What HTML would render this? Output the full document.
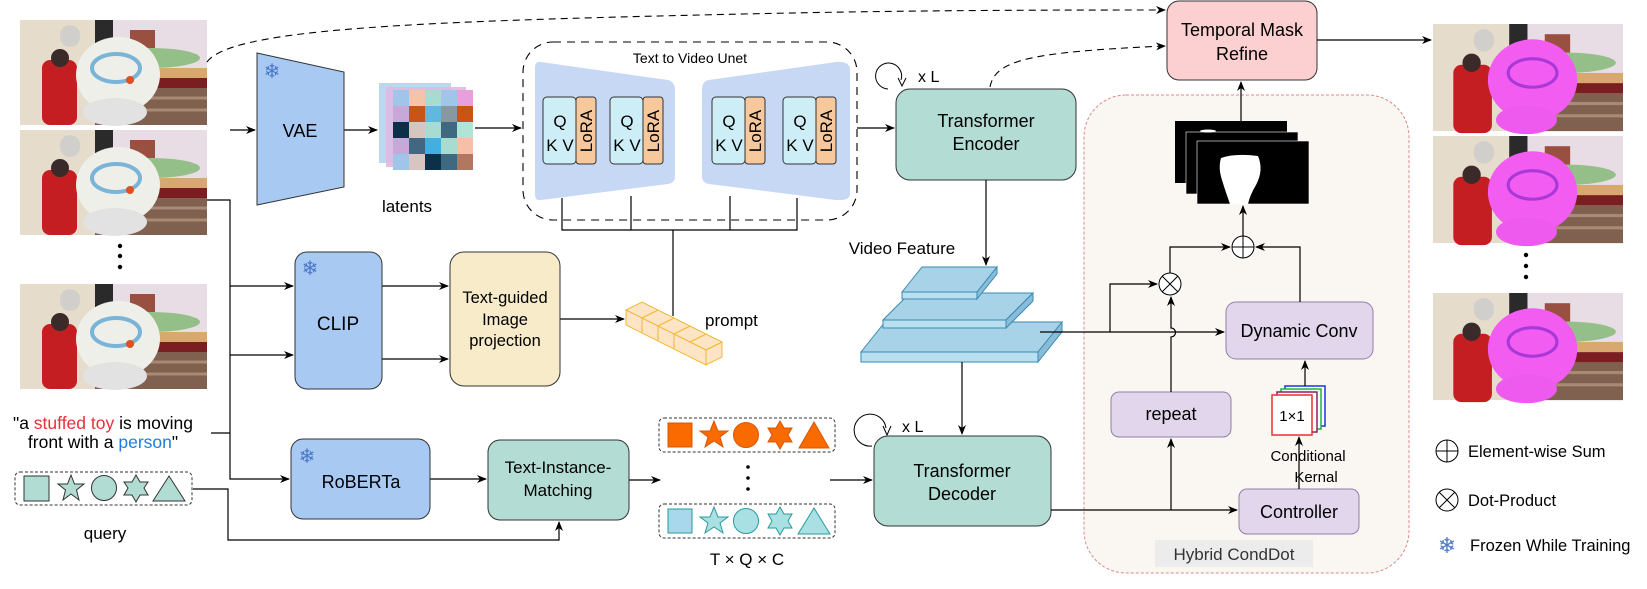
<!DOCTYPE html>
<html><head><meta charset="utf-8"><style>
html,body{margin:0;padding:0;background:#fff}
svg{display:block;font-family:"Liberation Sans",Arial,sans-serif}
</style></head><body>
<svg width="1647" height="589" viewBox="0 0 1647 589" xmlns="http://www.w3.org/2000/svg">
<defs>
<marker id="a" markerWidth="10" markerHeight="10" refX="9" refY="5" orient="auto" markerUnits="userSpaceOnUse"><path d="M0,1 L10,5 L0,9 L3,5 z" fill="#000"/></marker>
<g id="scene">
<rect width="187" height="105" fill="#e6dccb"/>
<rect x="75" y="0" width="112" height="48" fill="#e8dde4"/>
<ellipse cx="130" cy="38" rx="50" ry="10" fill="#7fb870" opacity="0.8"/>
<rect x="110" y="10" width="25" height="18" fill="#9a5040"/>
<rect x="75" y="0" width="18" height="50" fill="#2a2a2a"/>
<rect x="75" y="48" width="112" height="12" fill="#d8a870"/>
<rect x="75" y="58" width="112" height="10" fill="#7a1e22"/>
<rect x="75" y="68" width="112" height="37" fill="#80604e"/>
<path d="M75,78 H187 M75,90 H187" stroke="#a88a76" stroke-width="3"/>
<rect x="40" y="5" width="20" height="22" rx="10" fill="#ccc" opacity="0.8"/>
</g>
<g id="photoL">
<use href="#scene"/>
<rect x="22" y="40" width="35" height="65" rx="8" fill="#c41e22"/>
<circle cx="40" cy="38" r="9" fill="#3a2a2a"/>
<ellipse cx="98" cy="55" rx="42" ry="38" fill="#efefea"/>
<ellipse cx="95" cy="92" rx="32" ry="14" fill="#e2e2e2"/>
<ellipse cx="96" cy="48" rx="24" ry="14" fill="none" stroke="#7ab4d8" stroke-width="4"/>
<circle cx="110" cy="60" r="4" fill="#e05020"/>
</g>
<g id="photoR">
<use href="#scene"/>
<rect x="20" y="40" width="38" height="67" rx="8" fill="#c41e22"/>
<circle cx="38" cy="38" r="9" fill="#3a2a2a"/>
<ellipse cx="98" cy="55" rx="44" ry="40" fill="#f25cf0"/>
<ellipse cx="92" cy="94" rx="30" ry="14" fill="#ee5aee"/>
<ellipse cx="98" cy="48" rx="24" ry="14" fill="none" stroke="#a838d8" stroke-width="3"/>
</g>
</defs>

<!-- left photos -->
<use href="#photoL" x="20" y="20"/>
<use href="#photoL" x="20" y="130"/>
<use href="#photoL" x="20" y="284"/>
<circle cx="120" cy="246" r="2.2"/><circle cx="120" cy="256" r="2.2"/><circle cx="120" cy="267" r="2.2"/>

<!-- right photos -->
<g transform="translate(1433,24) scale(1.016,1.02)"><use href="#photoR"/></g>
<g transform="translate(1433,136) scale(1.016,1.02)"><use href="#photoR"/></g>
<g transform="translate(1433,293) scale(1.016,1.02)"><use href="#photoR"/></g>
<circle cx="1526" cy="255" r="2.2"/><circle cx="1526" cy="266" r="2.2"/><circle cx="1526" cy="277" r="2.2"/>

<!-- quote text -->
<text x="103" y="429" font-size="17.5" text-anchor="middle">"a <tspan fill="#e8303a">stuffed toy</tspan> is moving</text>
<text x="103" y="448" font-size="17.5" text-anchor="middle">front with a <tspan fill="#1a7fe0">person</tspan>"</text>
<!-- query -->
<rect x="15" y="472" width="177" height="33" rx="5" fill="none" stroke="#333" stroke-dasharray="3,2"/>
<g fill="#b0dcd4" stroke="#333" stroke-width="1">
<rect x="24" y="476" width="25" height="25"/>
<polygon points="71,475 74.5,484 84,484 76.5,490 79,500 71,494 63,500 65.5,490 58,484 67.5,484"/>
<circle cx="104" cy="488" r="12.5"/>
<polygon points="136,475 140,482 148,482 144,488 148,495 140,495 136,502 132,495 124,495 128,488 124,482 132,482"/>
<polygon points="169,476 185,501 153,501"/>
</g>
<text x="105" y="539" font-size="17" text-anchor="middle">query</text>

<!-- connectors left -->
<g stroke="#000" stroke-width="1.2" fill="none">
<path d="M207,200 H230 V479 H289" marker-end="url(#a)"/>
<path d="M230,130 H255" marker-end="url(#a)"/>
<path d="M230,286 H293" marker-end="url(#a)"/>
<path d="M230,355 H293" marker-end="url(#a)"/>
<path d="M211,433 H230"/>
<path d="M193,489 H228 V540 H559 V522" marker-end="url(#a)"/>
<path d="M344,130 H377" marker-end="url(#a)"/>
<path d="M475,128 H521" marker-end="url(#a)"/>
<path d="M857,128 H894" marker-end="url(#a)"/>
<path d="M382,286 H448" marker-end="url(#a)"/>
<path d="M382,359 H448" marker-end="url(#a)"/>
<path d="M560,319 H624" marker-end="url(#a)"/>
<path d="M430,479 H486" marker-end="url(#a)"/>
<path d="M629,480 H660" marker-end="url(#a)"/>
<path d="M830,480 H872" marker-end="url(#a)"/>
<path d="M562,198 V230 H797 V198 M631,196 V230 M730,196 V230 M673,230 V316"/>
</g>
<!-- dashed curves -->
<g stroke="#000" stroke-width="1.1" fill="none" stroke-dasharray="7,5">
<path d="M207,62 C230,30 400,22 700,15 C900,10 1050,10 1165,10" marker-end="url(#a)"/>
<path d="M990,87 C995,60 1030,52 1165,46" marker-end="url(#a)"/>
</g>

<!-- VAE -->
<polygon points="257,53 344,72 344,187 257,205" fill="#a7c9f2" stroke="#333" stroke-width="1"/>
<text x="300" y="137" font-size="18" text-anchor="middle">VAE</text>
<text x="272" y="78" font-size="20" fill="#4a78c8" text-anchor="middle">❄</text>

<!-- latents -->
<g>
<rect x="379" y="83" width="72" height="80" fill="#bcd8ee"/>
<rect x="386" y="87" width="80" height="80" fill="#e0b8e0" opacity="0.9"/>
<g transform="translate(393,90)">
<rect width="16" height="16" x="0" y="0" fill="#9fc6e8"/><rect width="16" height="16" x="16" y="0" fill="#f4c4a8"/><rect width="16" height="16" x="32" y="0" fill="#a8dcd0"/><rect width="16" height="16" x="48" y="0" fill="#9fc6e8"/><rect width="16" height="16" x="64" y="0" fill="#e8a0dc"/>
<rect width="16" height="16" x="0" y="16" fill="#c8a8d8"/><rect width="16" height="16" x="16" y="16" fill="#c85418"/><rect width="16" height="16" x="32" y="16" fill="#60b8e0"/><rect width="16" height="16" x="48" y="16" fill="#8898a0"/><rect width="16" height="16" x="64" y="16" fill="#c85418"/>
<rect width="16" height="16" x="0" y="32" fill="#0c3048"/><rect width="16" height="16" x="16" y="32" fill="#d8c4c0"/><rect width="16" height="16" x="32" y="32" fill="#a8dcd0"/><rect width="16" height="16" x="48" y="32" fill="#406880"/><rect width="16" height="16" x="64" y="32" fill="#b0e4d4"/>
<rect width="16" height="16" x="0" y="48" fill="#c8a8d8"/><rect width="16" height="16" x="16" y="48" fill="#406880"/><rect width="16" height="16" x="32" y="48" fill="#40b0e0"/><rect width="16" height="16" x="48" y="48" fill="#a8dcd0"/><rect width="16" height="16" x="64" y="48" fill="#f4c0a8"/>
<rect width="16" height="16" x="0" y="64" fill="#9fc6e8"/><rect width="16" height="16" x="16" y="64" fill="#d8c4c0"/><rect width="16" height="16" x="32" y="64" fill="#0c3048"/><rect width="16" height="16" x="48" y="64" fill="#406880"/><rect width="16" height="16" x="64" y="64" fill="#b07860"/>
</g>
</g>
<text x="407" y="212" font-size="17" text-anchor="middle">latents</text>

<!-- Unet -->
<rect x="523" y="42" width="334" height="178" rx="30" fill="none" stroke="#000" stroke-dasharray="8,6" stroke-width="1.1"/>
<text x="690" y="63" font-size="14" text-anchor="middle">Text to Video Unet</text>
<path d="M541,62 L668,80 Q675,82 675,90 V176 Q675,183 668,184 L541,200 Q535,201 535,194 V68 Q535,61 541,62 z" fill="#c6d8f4"/>
<path d="M709,80 L836,62 Q850,61 850,70 V194 Q850,201 836,200 L709,184 Q702,183 702,176 V90 Q702,81 709,80 z" fill="#c6d8f4"/>
<g font-size="17">
<g transform="translate(543,97)"><rect width="33" height="67" rx="4" fill="#cdeef6" stroke="#333"/><rect x="33" width="20" height="67" rx="3" fill="#f6c89c" stroke="#333"/><text x="17" y="30" text-anchor="middle">Q</text><text x="17" y="54" text-anchor="middle">K V</text><text transform="translate(49,34) rotate(-90)" text-anchor="middle">LoRA</text></g>
<g transform="translate(610,97)"><rect width="33" height="67" rx="4" fill="#cdeef6" stroke="#333"/><rect x="33" width="20" height="67" rx="3" fill="#f6c89c" stroke="#333"/><text x="17" y="30" text-anchor="middle">Q</text><text x="17" y="54" text-anchor="middle">K V</text><text transform="translate(49,34) rotate(-90)" text-anchor="middle">LoRA</text></g>
<g transform="translate(712,97)"><rect width="33" height="67" rx="4" fill="#cdeef6" stroke="#333"/><rect x="33" width="20" height="67" rx="3" fill="#f6c89c" stroke="#333"/><text x="17" y="30" text-anchor="middle">Q</text><text x="17" y="54" text-anchor="middle">K V</text><text transform="translate(49,34) rotate(-90)" text-anchor="middle">LoRA</text></g>
<g transform="translate(783,97)"><rect width="33" height="67" rx="4" fill="#cdeef6" stroke="#333"/><rect x="33" width="20" height="67" rx="3" fill="#f6c89c" stroke="#333"/><text x="17" y="30" text-anchor="middle">Q</text><text x="17" y="54" text-anchor="middle">K V</text><text transform="translate(49,34) rotate(-90)" text-anchor="middle">LoRA</text></g>
</g>

<!-- CLIP -->
<rect x="295" y="252" width="87" height="137" rx="12" fill="#a7c9f2" stroke="#333"/>
<text x="338" y="330" font-size="19" text-anchor="middle">CLIP</text>
<text x="310" y="275" font-size="20" fill="#4a78c8" text-anchor="middle">❄</text>
<!-- Text-guided -->
<rect x="450" y="252" width="110" height="134" rx="14" fill="#f8ebc9" stroke="#333"/>
<text x="505" y="303" font-size="16.5" text-anchor="middle">Text-guided</text>
<text x="505" y="325" font-size="16.5" text-anchor="middle">Image</text>
<text x="505" y="346" font-size="16.5" text-anchor="middle">projection</text>

<!-- prompt cubes -->
<g fill="#fde4c4" stroke="#f0b830" stroke-width="1">
<polygon points="626,310 642,302 722,342 706,350"/>
<polygon points="706,350 722,342 722,357 706,365"/>
<polygon points="626,310 706,350 706,365 626,325"/>
<path d="M642,318 V333 M658,326 V341 M674,334 V349 M642,318 L658,310 M658,326 L674,318 M674,334 L690,326 M690,342 L706,334"/>
</g>
<text x="705" y="326" font-size="17">prompt</text>

<!-- RoBERTa -->
<rect x="291" y="439" width="139" height="80" rx="12" fill="#a7c9f2" stroke="#333"/>
<text x="361" y="488" font-size="18" text-anchor="middle">RoBERTa</text>
<text x="307" y="463" font-size="20" fill="#4a78c8" text-anchor="middle">❄</text>
<!-- TIM -->
<rect x="488" y="440" width="141" height="80" rx="12" fill="#b2dcd4" stroke="#333"/>
<text x="558" y="473" font-size="17" text-anchor="middle">Text-Instance-</text>
<text x="558" y="496" font-size="17" text-anchor="middle">Matching</text>

<!-- instance boxes -->
<rect x="659" y="418" width="176" height="34" rx="5" fill="none" stroke="#333" stroke-dasharray="3,2"/>
<g fill="#f96a00" stroke="#d85800">
<rect x="668" y="423" width="24" height="24"/>
<polygon points="714,421 718,431 728,431 720,437 723,447 714,441 705,447 708,437 700,431 710,431"/>
<circle cx="746" cy="435" r="12.5"/>
<polygon points="780,421 784,428 792,428 788,435 792,442 784,442 780,449 776,442 768,442 772,435 768,428 776,428"/>
<polygon points="814,422 829,448 799,448"/>
</g>
<circle cx="748" cy="467" r="1.8"/><circle cx="748" cy="478" r="1.8"/><circle cx="748" cy="489" r="1.8"/>
<rect x="659" y="504" width="176" height="34" rx="5" fill="none" stroke="#333" stroke-dasharray="3,2"/>
<g stroke="#2a9a9a">
<rect x="668" y="509" width="24" height="24" fill="#a8d8ec"/>
<polygon points="714,507 718,517 728,517 720,523 723,533 714,527 705,533 708,523 700,517 710,517" fill="#a8e0e4"/>
<circle cx="746" cy="521" r="12.5" fill="#a8e0e4"/>
<polygon points="780,507 784,514 792,514 788,521 792,528 784,528 780,535 776,528 768,528 772,521 768,514 776,514" fill="#a8e0e4"/>
<polygon points="814,508 830,534 798,534" fill="#a8e0e4"/>
</g>
<text x="747" y="565" font-size="17" text-anchor="middle">T × Q × C</text>

<!-- Hybrid box -->
<rect x="1084" y="95" width="325" height="478" rx="42" fill="#faf6f2" stroke="#d88a8a" stroke-dasharray="3,2"/>
<rect x="1155" y="540" width="158" height="27" fill="#ececec"/>
<text x="1234" y="560" font-size="17" fill="#333" text-anchor="middle">Hybrid CondDot</text>

<!-- Transformer Encoder -->
<rect x="896" y="89" width="180" height="91" rx="14" fill="#b2dcd4" stroke="#333"/>
<text x="986" y="127" font-size="18" text-anchor="middle">Transformer</text>
<text x="986" y="150" font-size="18" text-anchor="middle">Encoder</text>
<path d="M888,89 A13,13 0 1 1 901,80" fill="none" stroke="#000"/>
<path d="M898,78 L902,86 L906,78" fill="none" stroke="#000"/>
<text x="918" y="82" font-size="16">x L</text>

<!-- Video feature -->
<text x="902" y="254" font-size="17" text-anchor="middle">Video Feature</text>
<g stroke="#3a8ab0" stroke-width="1">
<polygon points="861,352 885,322 1062,322 1038,352" fill="#a8d2e8"/>
<polygon points="1038,352 1062,322 1062,332 1038,362" fill="#88bcd8"/>
<rect x="861" y="352" width="177" height="10" fill="#b8e0f0"/>
<polygon points="883,320 910,293 1033,293 1006,320" fill="#a8d2e8"/>
<polygon points="1006,320 1033,293 1033,301 1006,328" fill="#88bcd8"/>
<rect x="883" y="320" width="123" height="8" fill="#b8e0f0"/>
<polygon points="902,292 922,267 997,267 977,292" fill="#a8d2e8"/>
<polygon points="977,292 997,267 997,274 977,299" fill="#88bcd8"/>
<rect x="902" y="292" width="75" height="7" fill="#b8e0f0"/>
</g>

<!-- Transformer Decoder -->
<rect x="874" y="436" width="177" height="90" rx="14" fill="#b2dcd4" stroke="#333"/>
<text x="962" y="477" font-size="18" text-anchor="middle">Transformer</text>
<text x="962" y="500" font-size="18" text-anchor="middle">Decoder</text>
<path d="M872,446 A16,16 0 1 1 886,428" fill="none" stroke="#000"/>
<path d="M883,426 L887,435 L891,426" fill="none" stroke="#000"/>
<text x="902" y="432" font-size="16">x L</text>

<!-- Temporal Mask Refine -->
<rect x="1167" y="1" width="150" height="79" rx="12" fill="#fcd0d0" stroke="#333"/>
<text x="1242" y="36" font-size="18" text-anchor="middle">Temporal Mask</text>
<text x="1242" y="60" font-size="18" text-anchor="middle">Refine</text>

<!-- mask -->
<rect x="1175" y="121" width="112" height="62" fill="#000"/>
<rect x="1186" y="132" width="112" height="62" fill="#000" stroke="#fff" stroke-width="0.6"/>
<rect x="1197" y="141" width="112" height="63" fill="#000" stroke="#fff" stroke-width="0.6"/>
<path d="M1221,158 Q1235,153 1258,156 Q1264,170 1256,185 Q1250,195 1248,204 H1230 Q1225,190 1222,180 Q1218,168 1221,158 z" fill="#fff"/>
<ellipse cx="1208" cy="131" rx="8" ry="1.5" fill="#fff"/>

<!-- Dynamic conv, repeat, controller -->
<rect x="1226" y="302" width="147" height="57" rx="10" fill="#e2d6ec" stroke="#9080a8"/>
<text x="1299" y="337" font-size="18" text-anchor="middle">Dynamic Conv</text>
<rect x="1111" y="392" width="120" height="45" rx="8" fill="#e2d6ec" stroke="#9080a8"/>
<text x="1171" y="420" font-size="18" text-anchor="middle">repeat</text>
<rect x="1239" y="489" width="120" height="45" rx="8" fill="#e2d6ec" stroke="#9080a8"/>
<text x="1299" y="518" font-size="18" text-anchor="middle">Controller</text>
<!-- 1x1 -->
<rect x="1285" y="386" width="40" height="40" fill="#fff" stroke="#2030e0" stroke-width="1.5"/>
<rect x="1281" y="389" width="40" height="40" fill="#fff" stroke="#20b040" stroke-width="1.5"/>
<rect x="1277" y="392" width="40" height="40" fill="#fff" stroke="#8a2060" stroke-width="1.5"/>
<rect x="1272" y="395" width="40" height="40" fill="#fff" stroke="#e83030" stroke-width="1.5"/>
<text x="1292" y="421" font-size="15" text-anchor="middle">1×1</text>
<text x="1308" y="461" font-size="15" text-anchor="middle">Conditional</text>
<text x="1316" y="482" font-size="15" text-anchor="middle">Kernal</text>

<!-- circles -->
<circle cx="1243" cy="247" r="11" fill="#fff" stroke="#000"/>
<path d="M1232,247 H1254 M1243,236 V258" stroke="#000"/>
<circle cx="1170" cy="284" r="11" fill="#fff" stroke="#000"/>
<path d="M1162,276 L1178,292 M1178,276 L1162,292" stroke="#000"/>

<!-- right connectors -->
<g stroke="#000" stroke-width="1.2" fill="none">
<path d="M1051,510 H1237" marker-end="url(#a)"/>
<path d="M1171,510 V439" marker-end="url(#a)"/>
<path d="M1171,392 V337 A4,4 0 0 0 1171,328 V297" marker-end="url(#a)"/>
<path d="M1040,332 H1110 V284 H1157" marker-end="url(#a)"/>
<path d="M1110,332 H1224" marker-end="url(#a)"/>
<path d="M1170,273 V247 H1230" marker-end="url(#a)"/>
<path d="M1300,302 V247 H1256" marker-end="url(#a)"/>
<path d="M1299,489 V437" marker-end="url(#a)"/>
<path d="M1305,386 V361" marker-end="url(#a)"/>
<path d="M1243,236 V206" marker-end="url(#a)"/>
<path d="M1241,121 V82" marker-end="url(#a)"/>
<path d="M1317,40 H1431" marker-end="url(#a)"/>
<path d="M986,180 V265" marker-end="url(#a)"/>
<path d="M962,362 V434" marker-end="url(#a)"/>
</g>

<!-- legend -->
<circle cx="1447" cy="451" r="11" fill="none" stroke="#000"/>
<path d="M1436,451 H1458 M1447,440 V462" stroke="#000"/>
<text x="1468" y="457" font-size="16.5">Element-wise Sum</text>
<circle cx="1447" cy="500" r="11" fill="none" stroke="#000"/>
<path d="M1439,492 L1455,508 M1455,492 L1439,508" stroke="#000"/>
<text x="1468" y="506" font-size="16.5">Dot-Product</text>
<text x="1447" y="553" font-size="22" fill="#4a78c8" text-anchor="middle">❄</text>
<text x="1470" y="551" font-size="16.5">Frozen While Training</text>
</svg>
</body></html>
